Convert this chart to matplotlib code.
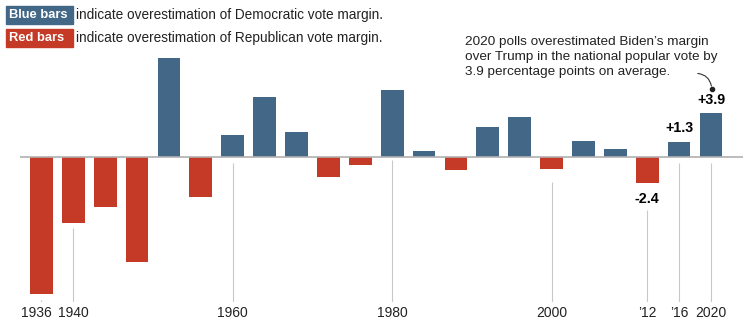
import matplotlib
matplotlib.use("Agg")
import matplotlib.pyplot as plt
from matplotlib.patches import Rectangle
from matplotlib.transforms import ScaledTranslation

# Poll error in the national popular vote margin, by election year
years = [1936, 1940, 1944, 1948, 1952, 1956, 1960, 1964, 1968, 1972, 1976,
         1980, 1984, 1988, 1992, 1996, 2000, 2004, 2008, 2012, 2016, 2020]
errors = [-12.4, -6.0, -4.5, -9.5, 8.9, -3.6, 1.9, 5.4, 2.2, -1.8, -0.8,
          6.0, 0.5, -1.2, 2.7, 3.6, -1.1, 1.4, 0.7, -2.4, 1.3, 3.9]

tick_years = [1936, 1940, 1960, 1980, 2000, 2012, 2016, 2020]
tick_labels = ["1936", "1940", "1960", "1980", "2000", "\u201912", "\u201916", "2020"]
# where each vertical guide line starts (data units)
guide_tops = [-12.9, -6.4, -0.6, -0.3, -2.3, -4.8, -0.6, -0.6]

labelled_years = [2012, 2016, 2020]
labelled_text = ["-2.4", "+1.3", "+3.9"]

BLUE = "#436887"
RED = "#c43a26"
GREY_TEXT = "#222222"

plt.rcParams["font.family"] = ["Liberation Sans", "DejaVu Sans"]

fig = plt.figure(figsize=(7.54, 3.28), dpi=100)
ax = fig.add_axes([0, 26 / 328, 1, 302 / 328])

colors = [BLUE if e > 0 else RED for e in errors]
ax.bar(years, errors, width=2.85, color=colors, zorder=3)

ax.set_xlim(1930.8, 2025.4)
ax.set_ylim(-13.1, 14.1)

ax.hlines(0, 1933.3, 2024.0, color="#b0b0b0", lw=1.2, zorder=4)
ax.vlines(tick_years, ax.get_ylim()[0], guide_tops, color="#c8c8c8", lw=0.8, zorder=1)

ax.set_xticks(tick_years)
ax.set_xticklabels(tick_labels, fontsize=10, color=GREY_TEXT)
ax.tick_params(axis="x", length=0, pad=3)
# the first label sits slightly left of its bar, as in the original
first = ax.get_xticklabels()[0]
first.set_transform(first.get_transform() + ScaledTranslation(-5 / 100, 0, fig.dpi_scale_trans))
ax.set_yticks([])
for s in ax.spines.values():
    s.set_visible(False)

for yr, txt in zip(labelled_years, labelled_text):
    v = errors[years.index(yr)]
    if v > 0:
        ax.text(yr, v + 0.6, txt, ha="center", va="bottom", fontsize=10.3,
                fontweight="bold", color="black")
    else:
        ax.text(yr, v - 0.75, txt, ha="center", va="top", fontsize=10.3,
                fontweight="bold", color="black")

ax.text(1989.2, 10.85,
        "2020 polls overestimated Biden\u2019s margin\n"
        "over Trump in the national popular vote by\n"
        "3.9 percentage points on average.",
        ha="left", va="top", fontsize=9.7, color=GREY_TEXT, linespacing=1.33)
ax.annotate("", xy=(2020.1, 6.1), xytext=(2018.0, 7.5),
            arrowprops=dict(arrowstyle="-", color="#333333", lw=0.8,
                            connectionstyle="arc3,rad=-0.45"))
ax.plot([2020.1], [6.1], "o", color="#222222", ms=3)

# legend boxes at the top left
for y0, col, label, desc in [(304, BLUE, "Blue bars", "Democratic"),
                             (281, RED, "Red bars", "Republican")]:
    fig.patches.append(Rectangle((6 / 754, y0 / 328), 67 / 754, 18 / 328,
                                 transform=fig.transFigure, color=col))
    fig.text(9 / 754, (y0 + 9) / 328, label, ha="left", va="center",
             fontsize=9.3, fontweight="bold", color="white")
    fig.text(76 / 754, (y0 + 9) / 328,
             f"indicate overestimation of {desc} vote margin.",
             ha="left", va="center", fontsize=9.8, color=GREY_TEXT)

fig.savefig("out.png", dpi=100)
